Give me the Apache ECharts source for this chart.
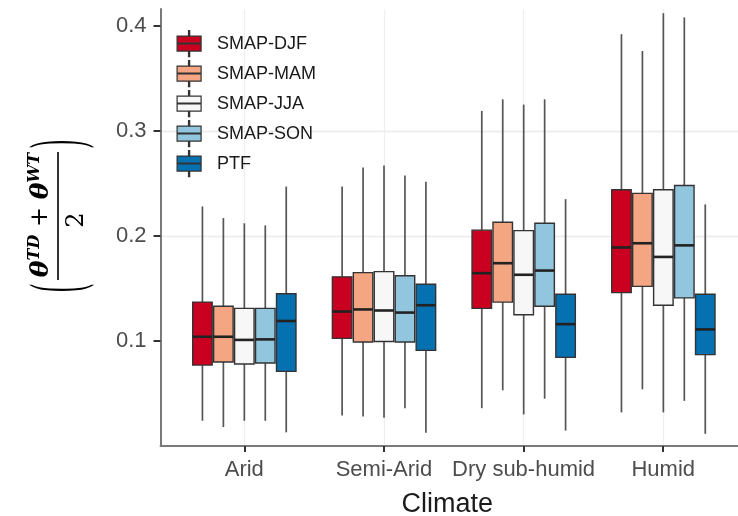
<!DOCTYPE html>
<html>
<head>
<meta charset="utf-8">
<script src="https://cdn.jsdelivr.net/npm/echarts@6/dist/echarts.min.js"></script>
<style>
html,body{margin:0;padding:0;background:#fff;}
#chart{width:738px;height:516px;}
</style>
</head>
<body>
<div id="chart"></div>
<script>
// ---- data ----
var categories = ['Arid', 'Semi-Arid', 'Dry sub-humid', 'Humid'];
var seriesNames = ['SMAP-DJF', 'SMAP-MAM', 'SMAP-JJA', 'SMAP-SON', 'PTF'];
var yTicks = [0.1, 0.2, 0.3, 0.4];
// each entry: [min, Q1, median, Q3, max] per climate category
var smapDJF = [[0.024, 0.077, 0.104, 0.137, 0.228], [0.029, 0.1025, 0.128, 0.161, 0.247], [0.036, 0.131, 0.1645, 0.2055, 0.319], [0.032, 0.146, 0.189, 0.244, 0.392]];
var smapMAM = [[0.018, 0.080, 0.104, 0.133, 0.217], [0.028, 0.099, 0.130, 0.165, 0.265], [0.053, 0.137, 0.174, 0.213, 0.330], [0.054, 0.152, 0.193, 0.2405, 0.376]];
var smapJJA = [[0.024, 0.078, 0.101, 0.131, 0.212], [0.027, 0.0995, 0.129, 0.166, 0.267], [0.030, 0.125, 0.163, 0.205, 0.325], [0.032, 0.134, 0.180, 0.244, 0.412]];
var smapSON = [[0.024, 0.079, 0.1015, 0.131, 0.210], [0.036, 0.099, 0.127, 0.162, 0.2575], [0.045, 0.133, 0.167, 0.212, 0.330], [0.043, 0.141, 0.191, 0.248, 0.408]];
var ptf = [[0.013, 0.071, 0.119, 0.145, 0.247], [0.0125, 0.091, 0.134, 0.154, 0.2515], [0.0147, 0.0844, 0.116, 0.1445, 0.235], [0.0116, 0.087, 0.111, 0.1445, 0.230]];
var seriesValues = [smapDJF, smapMAM, smapJJA, smapSON, ptf];

// ---- styles ----
var fills = ['#CA0020', '#F4A582', '#F7F7F7', '#92C5DE', '#0571B0'];
var boxStroke = '#333333';
var whiskerColor = '#555555';
var medianColor = '#222222';
var labelColor = '#4d4d4d';
var gridColor = '#ebebeb';

// slot axis (0.1 category units, from -0.6 to 3.6) that carries gridlines/ticks/labels
var slotCats = [];
for (var i = 0; i <= 42; i++) slotCats.push('');
categories.forEach(function (c, k) { slotCats[6 + 10 * k] = c; });
function isSlot(idx, val) { return val !== ''; }

var chart = echarts.init(document.getElementById('chart'), null, {renderer: 'canvas'});

var legendIcon = 'path://M11.4,0 L12.6,0 L12.6,5.5 L11.4,5.5 Z M0,5.5 L24,5.5 L24,20.5 L0,20.5 Z M0,12.6 L24,12.6 L24,13.4 L0,13.4 Z M11.4,20.5 L12.6,20.5 L12.6,26 L11.4,26 Z';

var series = seriesNames.map(function (name, s) {
  return {
    type: 'custom',
    name: name,
    xAxisIndex: 1,
    yAxisIndex: 1,
    silent: true,
    itemStyle: {color: fills[s], borderColor: boxStroke},
    encode: {x: 0, y: [1, 2, 3, 4, 5]},
    data: seriesValues[s].map(function (v, k) { return [k].concat(v); }),
    renderItem: function (params, api) {
      var k = api.value(0);
      var band = api.size([1, 0])[0];
      var step = band * 0.75 / seriesNames.length;
      var w = step * 0.93;
      var off = (params.seriesIndex - (seriesNames.length - 1) / 2) * step;
      var cx = api.coord([k, 0])[0] + off;
      var yMin = api.coord([k, api.value(1)])[1];
      var yQ1 = api.coord([k, api.value(2)])[1];
      var yMed = api.coord([k, api.value(3)])[1];
      var yQ3 = api.coord([k, api.value(4)])[1];
      var yMax = api.coord([k, api.value(5)])[1];
      return {
        type: 'group',
        children: [
          {type: 'line', shape: {x1: cx, y1: yMax, x2: cx, y2: yQ3}, style: {stroke: whiskerColor, lineWidth: 1.7}},
          {type: 'line', shape: {x1: cx, y1: yQ1, x2: cx, y2: yMin}, style: {stroke: whiskerColor, lineWidth: 1.7}},
          {type: 'rect', shape: {x: cx - w / 2, y: yQ3, width: w, height: yQ1 - yQ3}, style: {fill: fills[params.seriesIndex], stroke: boxStroke, lineWidth: 1.4}},
          {type: 'line', shape: {x1: cx - w / 2, y1: yMed, x2: cx + w / 2, y2: yMed}, style: {stroke: medianColor, lineWidth: 2.6}}
        ]
      };
    }
  };
});

var serifFont = '"DejaVu Serif", "Liberation Serif", serif';

var option = {
  animation: false,
  backgroundColor: '#ffffff',
  grid: [
    {left: 160.5, right: -9, top: 9, bottom: 70, outerBoundsMode: 'none', containLabel: false},
    {left: 174.5, right: 4.8, top: 9, bottom: 70, outerBoundsMode: 'none', containLabel: false}
  ],
  xAxis: [
    {
      type: 'category', gridIndex: 0, data: slotCats, boundaryGap: false,
      name: 'Climate', nameLocation: 'middle', nameGap: 45,
      nameTextStyle: {fontSize: 27, color: '#1a1a1a', fontFamily: 'Liberation Sans, Arial, sans-serif', padding: [0, 13, 0, 0]},
      axisLine: {show: true, lineStyle: {color: '#7a7a7a', width: 2}},
      axisTick: {show: true, interval: isSlot, length: 6, lineStyle: {color: '#333333', width: 2}},
      axisLabel: {show: true, interval: isSlot, fontSize: 22, color: labelColor, margin: 13, fontFamily: 'Liberation Sans, Arial, sans-serif'},
      splitLine: {show: true, interval: isSlot, lineStyle: {color: '#efefef', width: 1.3}}
    },
    {
      type: 'category', gridIndex: 1, data: categories, boundaryGap: true, show: false
    }
  ],
  yAxis: [
    {
      type: 'value', gridIndex: 0, min: 0, max: 0.416, interval: 0.05,
      axisLine: {show: true, lineStyle: {color: '#7a7a7a', width: 2}},
      axisTick: {show: true, length: 7, customValues: yTicks, lineStyle: {color: '#333333', width: 2}},
      axisLabel: {show: true, customValues: yTicks, fontSize: 22, color: labelColor, margin: 14, fontFamily: 'Liberation Sans, Arial, sans-serif',
        formatter: function (v) { return v.toFixed(1); }},
      splitLine: {show: true, showMinLine: false, showMaxLine: false, lineStyle: {color: gridColor, width: 1.3}}
    },
    {
      type: 'value', gridIndex: 1, min: 0, max: 0.416, show: false, splitLine: {show: false}
    }
  ],
  legend: {
    orient: 'vertical', left: 176.5, top: 30, padding: 0,
    itemWidth: 24, itemHeight: 26, itemGap: 2.8,
    selectedMode: false,
    textStyle: {fontSize: 18, color: '#1a1a1a', fontFamily: 'Liberation Sans, Arial, sans-serif', padding: [0, 0, 0, 11]},
    data: seriesNames.map(function (n, s) {
      return {name: n, icon: legendIcon, itemStyle: {color: fills[s], borderColor: boxStroke, borderWidth: 1.2}};
    })
  },
  graphic: [{
    type: 'group', x: 60, y: 216, rotation: Math.PI / 2, silent: true,
    children: [
      {type: 'text', x: 1, y: -19, style: {
        text: '{t|θ}{s|TD}{p| + }{t|θ}{s|WT}',
        align: 'center', verticalAlign: 'middle', fill: '#000',
        rich: {
          t: {fontSize: 25, fontWeight: 'bold', fontStyle: 'italic', fontFamily: serifFont, lineHeight: 28, verticalAlign: 'middle'},
          s: {fontSize: 16, fontWeight: 'bold', fontStyle: 'italic', fontFamily: serifFont, lineHeight: 16, verticalAlign: 'top'},
          p: {fontSize: 24, fontFamily: serifFont, lineHeight: 28, verticalAlign: 'middle'}
        }
      }},
      {type: 'line', shape: {x1: -64, y1: -2, x2: 64, y2: -2}, style: {stroke: '#000', lineWidth: 1.6}},
      {type: 'text', x: -4, y: 17, style: {text: '2', fontSize: 24, fontFamily: serifFont, fill: '#000', align: 'center', verticalAlign: 'middle'}},
      {type: 'text', x: -72, y: 0, scaleY: 3, style: {text: '(', fontSize: 24, fontFamily: '"Liberation Serif", serif', fill: '#000', align: 'center', verticalAlign: 'middle'}},
      {type: 'text', x: 72, y: 0, scaleY: 3, style: {text: ')', fontSize: 24, fontFamily: '"Liberation Serif", serif', fill: '#000', align: 'center', verticalAlign: 'middle'}}
    ]
  }],
  series: series
};
chart.setOption(option);
</script>
</body>
</html>
